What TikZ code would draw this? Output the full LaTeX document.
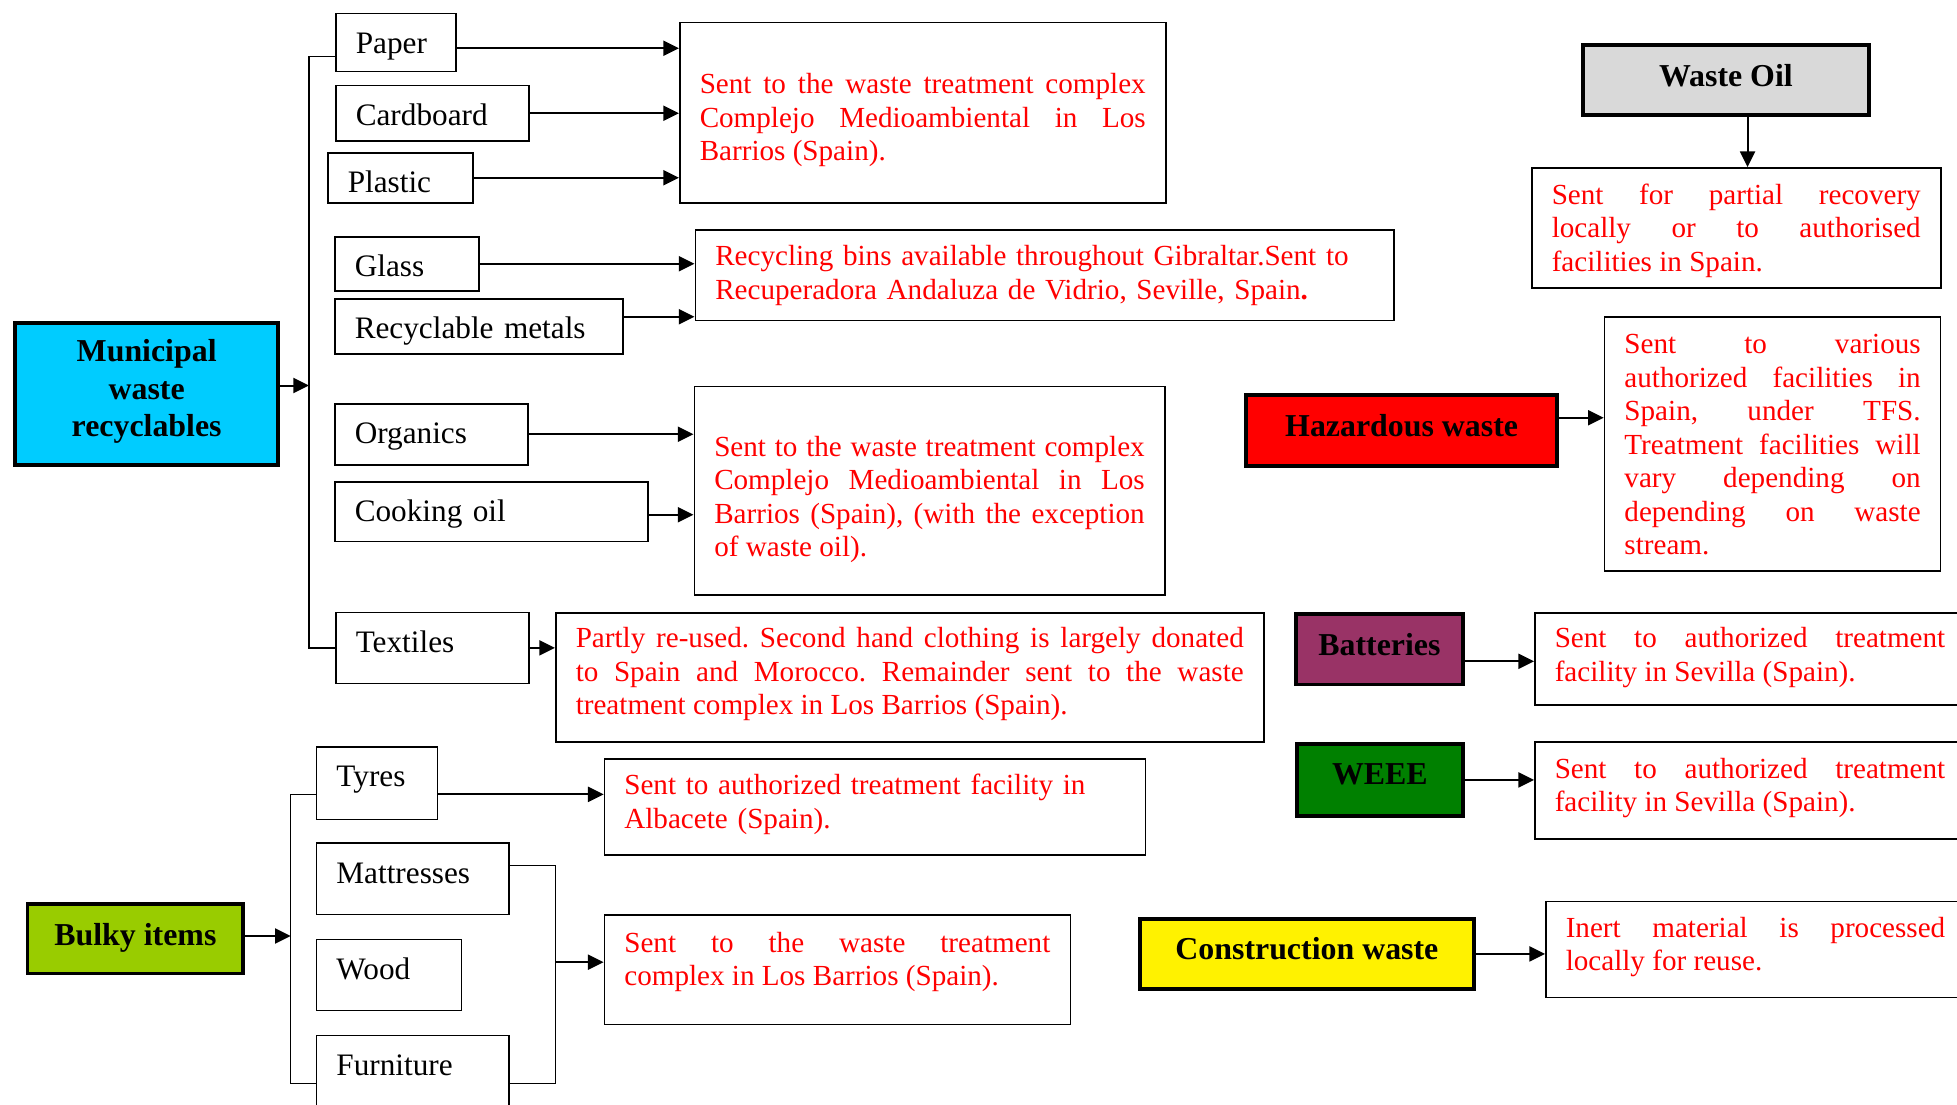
\documentclass[tikz,border=0pt]{standalone}
\usepackage{fontspec}
\setmainfont{Liberation Serif}
\usetikzlibrary{arrows.meta}
\definecolor{skyblue}{RGB}{0, 204, 255}
\definecolor{lightgrey}{RGB}{217, 217, 217}
\definecolor{plum}{RGB}{153, 51, 102}
\definecolor{leafgreen}{RGB}{0, 128, 0}
\definecolor{limegreen}{RGB}{153, 204, 0}
\tolerance=10000
\hbadness=10000
\hyphenpenalty=10000
\frenchspacing

\begin{document}
\begin{tikzpicture}[x=0.8pt, y=-0.8pt,
    >={Triangle[length=12.5pt, width=12pt]},
    item/.style={draw, line width=1.2pt, anchor=north west, inner xsep=16pt, inner ysep=0pt, text height=32pt, align=left, font=\fontsize{25}{29}\selectfont},
    head/.style={draw, line width=3pt, anchor=north west, inner sep=0pt, text height=33pt, align=center, font=\fontsize{25.5}{30}\selectfont\bfseries},
    note/.style={draw, line width=1.2pt, anchor=north west, inner xsep=16pt, inner ysep=0pt, align=justify, text=red, font=\fontsize{23.3}{26.8}\selectfont},
    link/.style={line width=1.6pt},
    trunk/.style={line width=1.1pt}]
            \useasboundingbox (0,0) rectangle (1957,1105);
            \clip (0,0) rectangle (1957,1105);
            % Municipal waste recyclables
            \node[head, fill=skyblue, text width=210.2pt, text height=31.3pt, text depth=82.5pt] (Municipal) at (13.4,320.9) {Municipal\\waste\\recyclables};
            \node[item, text width=64pt,    text depth=14.4pt] (Paper)     at (335,13)  {Paper};
            \node[item, text width=122.4pt, text depth=12pt]   (Cardboard) at (335,85)  {Cardboard};
            \node[item, text width=84pt,    text depth=8pt]    (Plastic)   at (327,152) {Plastic};
            \node[item, text width=83.2pt,  text depth=11.2pt] (Glass)     at (334,236) {Glass};
            \node[item, text width=198.4pt, text depth=12pt]   (Metals)    at (334,298) {Recyclable metals};
            \node[item, text width=122.4pt, text depth=16.8pt] (Organics)  at (334,403) {Organics};
            \node[item, text width=218.4pt, text depth=15.6pt] (Cooking)   at (334,481) {Cooking oil};
            \node[item, text width=122.4pt, text depth=25pt]   (Textiles)  at (335,611.5) {Textiles};
            \node[note, text width=356.8pt, text height=56.8pt, text depth=87.2pt] (D1) at (679,22)
                 {Sent to the waste treatment complex\linebreak Complejo Medioambiental in Los\linebreak Barrios (Spain).};
            \node[note, align=left, text width=526.8pt, text height=28.8pt, text depth=43.6pt] (D2) at (694.5,229)
                 {Recycling bins available throughout Gibraltar.Sent to\\Recuperadora Andaluza de Vidrio, Seville, Spain\textbf{.}};
            \node[note, text width=344.4pt, text height=55.8pt, text depth=111pt] (D3) at (693.5,385.5)
                 {Sent to the waste treatment complex\linebreak Complejo Medioambiental in Los\linebreak Barrios (Spain), (with the exception\linebreak of waste oil).};
            \node[note, text width=534.4pt, text height=28pt, text depth=75.2pt] (D4) at (555,612)
                 {Partly re-used. Second hand clothing is largely donated\linebreak to Spain and Morocco. Remainder sent to the waste\linebreak treatment complex in Los Barrios (Spain).};
            % Bulky items
            \node[head, fill=limegreen, minimum width=172.7pt, text height=33.3pt, text depth=22.4pt] (Bulky) at (25.6,901.9) {Bulky items};
            \node[item, text width=64.8pt, text depth=26.2pt] (Tyres)      at (315.7,746)   {Tyres};
            \node[item, text width=122pt,  text depth=24.9pt] (Mattresses) at (315.7,842.4) {Mattresses};
            \node[item, text width=84pt,   text depth=24.9pt] (Wood)       at (315.7,938.5) {Wood};
            \node[item, text width=122pt,  text depth=45pt]   (Furniture)  at (315.7,1034.6) {Furniture};
            \node[note, align=left, text width=401pt, text height=28.8pt, text depth=48pt] (D5) at (603.6,758)
                 {Sent to authorized treatment facility in\\Albacete (Spain).};
            \node[note, text width=340.8pt, text height=30.1pt, text depth=57.6pt] (D6) at (603.6,914)
                 {Sent to the waste treatment\linebreak complex in Los Barrios (Spain).};
            % Other streams
            \node[head, fill=lightgrey, minimum width=229pt, text depth=22.9pt] (Oil) at (1580.9,43.4) {Waste Oil};
            \node[note, text width=295.2pt, text height=29.3pt, text depth=66.7pt] (OilD) at (1531,167)
                 {Sent for partial recovery\linebreak locally or to authorised\linebreak facilities in Spain.};
            \node[head, fill=red, minimum width=248.6pt, text depth=23.8pt] (Hazardous) at (1244.4,393.4) {Hazardous waste};
            \node[note, text width=237pt, text height=29.6pt, text depth=173.6pt] (HazD) at (1603.7,316)
                 {Sent to various\linebreak authorized facilities in\linebreak Spain, under TFS.\linebreak Treatment facilities will\linebreak vary depending on\linebreak depending on waste\linebreak stream.};
            \node[head, fill=plum, minimum width=133.8pt, text depth=23.5pt] (Batteries) at (1293.9,611.9) {Batteries};
            \node[note, text width=312.4pt, text height=28pt, text depth=45.6pt] (BatD) at (1534,612)
                 {Sent to authorized treatment\linebreak facility in Sevilla (Spain).};
            \node[head, fill=leafgreen, minimum width=133pt, text height=32.5pt, text depth=25.3pt] (WEEE) at (1294.9,741.9) {WEEE};
            \node[note, text width=312.4pt, text height=29.2pt, text depth=48.4pt] (WeeeD) at (1534,741)
                 {Sent to authorized treatment\linebreak facility in Sevilla (Spain).};
            \node[head, fill=yellow, minimum width=267.4pt, text height=32.6pt, text depth=23.6pt] (Construction) at (1137.9,916.9) {Construction waste};
            \node[note, text width=303.6pt, text height=28.6pt, text depth=48.4pt] (ConD) at (1545,900.7)
                 {Inert material is processed\linebreak locally for reuse.};
            % Municipal branches
            \coordinate (mtrunk) at (309,385.5);
            \draw[link, ->] (Municipal.east |- mtrunk) -- (mtrunk);
            \draw[trunk] ([yshift=-11.2pt]Paper.west) -| (mtrunk) |- (Textiles.west);
            \draw[link, ->] ([yshift=-4.4pt]Paper.east) -- ([yshift=-4.4pt]Paper.east -| D1.west);
            \draw[link, ->] (Cardboard.east) -- (Cardboard.east -| D1.west);
            \draw[link, ->] (Plastic.east)   -- (Plastic.east -| D1.west);
            \draw[link, ->] (Glass.east)     -- (Glass.east -| D2.west);
            \draw[link, ->] ([yshift=7.6pt]Metals.east) -- ([yshift=7.6pt]Metals.east -| D2.west);
            \draw[link, ->] (Organics.east)  -- (Organics.east -| D3.west);
            \draw[link, ->] ([yshift=-2.6pt]Cooking.east) -- ([yshift=-2.6pt]Cooking.east -| D3.west);
            \draw[link, ->] (Textiles.east)  -- (Textiles.east -| D4.west);
            % Bulky branches
            \coordinate (btrunk) at (290.8,936);
            \coordinate (bmerge) at (555.4,962.2);
            \draw[link, ->] (Bulky.east |- btrunk) -- (btrunk);
            \draw[trunk] ([yshift=-9pt]Tyres.west) -| (btrunk) |- (Furniture.west);
            \draw[link, ->] ([yshift=-9pt]Tyres.east) -- ([yshift=-9pt]Tyres.east -| D5.west);
            \draw[trunk] ([yshift=10.4pt]Mattresses.east) -| (bmerge) |- (Furniture.east);
            \draw[link, ->] (bmerge) -- (bmerge -| D6.west);
            % Other streams
            \draw[link, ->] ([xshift=17.3pt]Oil.south) -- ([xshift=17.3pt]Oil.south |- OilD.north);
            \draw[link, ->] ([yshift=10.4pt]Hazardous.east) -- ([yshift=10.4pt]Hazardous.east -| HazD.west);
            \draw[link, ->] ([yshift=-9.8pt]Batteries.east) -- ([yshift=-9.8pt]Batteries.east -| BatD.west);
            \draw[link, ->] (WEEE.east) -- (WEEE.east -| WeeeD.west);
            \draw[link, ->] (Construction.east) -- (Construction.east -| ConD.west);
\end{tikzpicture}
\end{document}
